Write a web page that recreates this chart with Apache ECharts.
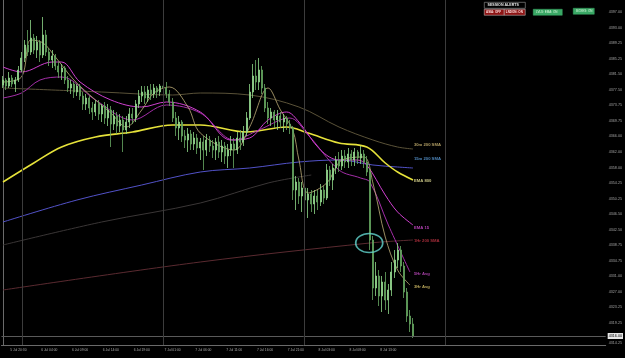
<!DOCTYPE html>
<html><head><meta charset="utf-8">
<script src="https://cdn.jsdelivr.net/npm/echarts/dist/echarts.min.js"></script>
<style>html,body{margin:0;padding:0;background:#000;}#c{width:625px;height:358px;}</style>
</head><body><div id="c"></div>
<script>
// ---- data ----
const slotCount = 196;
const timeLabels = ["5 Jul 20:30","6 Jul 04:00","6 Jul 09:00","6 Jul 14:00","6 Jul 19:00","7 Jul 01:00","7 Jul 06:00","7 Jul 11:00","7 Jul 16:00","7 Jul 21:00","8 Jul 03:00","8 Jul 08:00","8 Jul 13:00"];
const timeLabelSlots = [5,15,25,35,45,55,65,75,85,95,105,115,125];
const sessionBreaks = [6.3,52,97.8,143.6];
const priceTicks = [4397.00,4393.00,4389.25,4385.25,4381.50,4377.50,4373.75,4369.75,4366.00,4362.00,4358.00,4354.25,4350.25,4346.50,4342.50,4338.75,4334.75,4331.00,4327.00,4323.25,4319.25,4314.25];
const lastPrice = 4316.00;

const opens = [4378.75,4380.00,4378.50,4380.50,4379.00,4380.00,4382.50,4385.50,4388.75,4387.00,
4390.50,4387.50,4389.50,4386.25,4391.25,4387.00,4385.00,4386.00,4383.50,4382.00,
4383.00,4380.00,4378.00,4379.00,4377.00,4378.50,4376.00,4374.00,4375.50,4373.00,
4372.00,4374.00,4371.50,4373.50,4370.50,4372.50,4369.00,4371.00,4368.50,4370.00,
4367.50,4369.50,4371.50,4370.50,4374.00,4376.00,4377.00,4375.50,4377.50,4376.50,
4378.00,4377.00,4378.50,4378.00,4376.50,4374.50,4370.50,4368.00,4369.50,4366.00,
4365.00,4366.50,4364.00,4365.50,4363.00,4364.50,4362.50,4365.00,4363.50,4362.50,
4364.50,4362.00,4363.50,4361.00,4362.50,4364.00,4362.50,4365.50,4364.50,4367.00,
4370.50,4377.00,4381.00,4379.50,4382.50,4378.00,4373.00,4370.50,4372.00,4370.00,
4371.00,4369.50,4370.50,4369.00,4368.00,4352.50,4354.50,4351.00,4353.00,4350.00,
4351.50,4349.00,4351.00,4349.50,4352.50,4350.50,4357.50,4355.00,4358.00,4360.00,
4358.50,4361.00,4359.50,4361.50,4360.00,4362.00,4360.50,4361.50,4359.50,4357.00,
4340.00,4328.00,4331.00,4326.00,4329.50,4325.00,4327.50,4332.00,4335.00,4337.50,
4333.50,4327.00,4321.00,4319.00];
const closes = [4380.00,4378.50,4380.50,4379.00,4380.00,4382.50,4385.50,4388.75,4387.00,4390.50,
4387.50,4389.50,4386.25,4391.25,4387.00,4385.00,4386.00,4383.50,4382.00,4383.00,
4380.00,4378.00,4379.00,4377.00,4378.50,4376.00,4374.00,4375.50,4373.00,4372.00,
4374.00,4371.50,4373.50,4370.50,4372.50,4369.00,4371.00,4368.50,4370.00,4367.50,
4369.50,4371.50,4370.50,4374.00,4376.00,4377.00,4375.50,4377.50,4376.50,4378.00,
4377.00,4378.50,4378.00,4376.50,4374.50,4370.50,4368.00,4369.50,4366.00,4365.00,
4366.50,4364.00,4365.50,4363.00,4364.50,4362.50,4365.00,4363.50,4362.50,4364.50,
4362.00,4363.50,4361.00,4362.50,4364.00,4362.50,4365.50,4364.50,4367.00,4370.50,
4377.00,4381.00,4379.50,4382.50,4378.00,4373.00,4370.50,4372.00,4370.00,4371.00,
4369.50,4370.50,4369.00,4368.00,4352.50,4354.50,4351.00,4353.00,4350.00,4351.50,
4349.00,4351.00,4349.50,4352.50,4350.50,4357.50,4355.00,4358.00,4360.00,4358.50,
4361.00,4359.50,4361.50,4360.00,4362.00,4360.50,4361.50,4359.50,4357.00,4340.00,
4328.00,4331.00,4326.00,4329.50,4325.00,4327.50,4332.00,4335.00,4337.50,4333.50,
4327.00,4321.00,4319.00,4316.00];
const lows = [4378.00,4377.50,4378.00,4378.25,4377.00,4379.50,4382.00,4384.50,4386.00,4386.25,
4386.50,4385.50,4384.50,4385.50,4386.00,4383.50,4383.00,4382.50,4380.50,4380.00,
4379.00,4377.00,4376.50,4375.50,4376.00,4375.00,4372.50,4372.50,4371.50,4370.00,
4371.00,4370.00,4369.50,4369.00,4368.50,4363.25,4367.50,4366.50,4367.00,4362.00,
4366.50,4368.00,4369.00,4369.50,4373.00,4374.50,4374.00,4374.50,4375.00,4375.50,
4375.50,4376.00,4376.50,4375.50,4373.50,4369.50,4366.00,4365.00,4364.50,4363.00,
4362.00,4362.50,4362.50,4361.50,4360.00,4357.50,4361.00,4362.00,4360.50,4360.00,
4360.50,4359.50,4359.00,4358.00,4361.00,4358.00,4361.50,4362.50,4363.50,4366.00,
4370.00,4375.50,4377.50,4377.50,4376.50,4372.00,4369.00,4368.50,4368.00,4367.50,
4368.00,4367.00,4367.50,4366.50,4350.00,4347.50,4349.00,4347.00,4346.50,4345.50,
4347.00,4346.50,4347.50,4348.50,4349.00,4350.00,4353.50,4352.50,4356.50,4357.00,
4357.50,4358.00,4358.00,4358.50,4358.50,4359.00,4359.00,4358.00,4356.00,4337.50,
4325.00,4326.00,4323.50,4322.00,4322.50,4321.50,4326.00,4330.50,4333.00,4332.00,
4325.50,4319.50,4317.00,4315.50];
const highs = [4381.00,4380.50,4382.00,4381.25,4380.75,4383.50,4387.00,4390.00,4392.50,4395.00,
4391.50,4391.00,4390.00,4395.75,4392.50,4388.00,4387.50,4386.50,4384.50,4384.00,
4383.50,4381.00,4380.00,4379.50,4379.00,4379.00,4377.00,4376.50,4376.00,4374.50,
4375.00,4375.00,4374.00,4374.50,4374.00,4373.50,4372.50,4372.00,4371.50,4371.00,
4371.00,4373.00,4373.00,4375.00,4377.50,4378.50,4378.50,4378.50,4379.00,4379.00,
4378.50,4379.00,4379.50,4379.50,4377.50,4375.50,4372.00,4371.00,4370.00,4367.50,
4368.00,4367.50,4367.00,4366.50,4365.50,4366.00,4366.50,4366.00,4365.00,4365.50,
4366.00,4365.00,4364.50,4364.00,4366.00,4365.50,4367.00,4367.50,4368.50,4372.00,
4379.00,4384.00,4385.00,4385.50,4383.50,4379.00,4374.50,4373.00,4372.50,4372.50,
4372.00,4371.50,4371.00,4370.00,4368.50,4356.00,4355.50,4354.50,4354.00,4353.00,
4352.50,4352.50,4352.50,4354.00,4353.50,4359.00,4358.50,4359.00,4361.00,4362.00,
4362.50,4362.50,4363.00,4362.50,4363.00,4362.50,4363.50,4362.50,4361.00,4358.00,
4341.00,4334.50,4332.50,4331.00,4332.00,4329.00,4334.50,4337.50,4339.25,4338.50,
4334.50,4328.00,4322.50,4320.50];

// moving averages: [bar index, price]
const ema800 = [[0,4354.50],[10,4359.25],[19,4363.25],[30,4365.75],[42,4367.00],[55,4368.75],[64,4368.75],[79,4367.00],[92,4368.25],[99,4366.75],[109,4364.25],[118,4363.25],[124,4359.25],[128,4357.00],[133,4355.00]];
const sma15m200 = [[0,4344.50],[24,4350.00],[45,4353.75],[64,4357.00],[80,4358.00],[96,4359.50],[109,4360.00],[120,4358.75],[128,4358.25],[133,4358.00]];
const sma30m200 = [[0,4378.00],[32,4377.00],[55,4376.25],[64,4376.75],[80,4376.25],[96,4373.25],[109,4368.25],[120,4365.00],[128,4363.25],[133,4362.75]];
const sma1h200 = [[0,4327.50],[64,4334.50],[119,4339.25],[133,4340.00]];
const dimAvg = [[0,4338.75],[32,4344.50],[64,4349.25],[86,4354.25],[100,4356.25]];
const ema15 = [[0,4383.25],[6,4382.00],[16,4384.50],[19,4384.50],[25,4379.50],[35,4375.00],[45,4373.25],[53,4374.50],[64,4372.00],[74,4365.00],[80,4365.50],[86,4370.00],[92,4372.00],[96,4369.50],[103,4362.50],[109,4360.00],[115,4360.00],[118,4358.75],[124,4351.25],[128,4347.00],[133,4343.75]];
const avg5h = [[0,4375.50],[6,4376.75],[12,4380.00],[19,4380.75],[30,4375.00],[42,4370.00],[53,4373.75],[64,4371.75],[75,4365.00],[83,4367.50],[93,4370.50],[99,4366.25],[109,4357.50],[116,4355.50],[119,4354.50],[125,4343.75],[132,4332.00]];
const avg3h = [[0,4379.50],[6,4380.75],[9,4390.00],[13,4389.25],[17,4385.75],[23,4380.00],[30,4375.00],[35,4371.75],[40,4368.25],[45,4372.50],[49,4376.75],[54,4378.25],[60,4373.25],[64,4366.75],[75,4362.50],[80,4368.25],[86,4378.00],[90,4372.50],[94,4367.50],[96,4360.00],[99,4351.75],[105,4354.25],[110,4360.00],[117,4360.75],[120,4354.25],[124,4340.75],[128,4332.50],[132,4328.75]];

const lineLabelNames = ["30m 200 SMA","15m 200 SMA","EMA 800","EMA 15","1Hr 200 SMA","5Hr Avg","3Hr Avg"];
const lineLabelPrices = [4363.75,4360.25,4354.75,4343.00,4339.75,4331.50,4328.25];
const lineLabelColors = ["#d9c27a","#62a8e8","#f2eea0","#e050e0","#d03848","#d050d0","#e6d070"];
const lineLabelIndex = 133.3;
const circleMark = [118.8, 4339.25];

// ---- chart ----
const cats = new Array(slotCount).fill('');
timeLabelSlots.forEach((s, k) => { cats[s] = timeLabels[k]; });
const candles = opens.map((o, i) => [o, closes[i], lows[i], highs[i]]);
const FONT = 'Liberation Sans';

function lineSeries(data, color, width, opacity) {
  return { type: 'line', xAxisIndex: 1, yAxisIndex: 0, data: data, smooth: 0.35, showSymbol: false,
    lineStyle: { color: color, width: width, opacity: opacity == null ? 1 : opacity }, z: 3, silent: true };
}

const chart = echarts.init(document.getElementById('c'), null, { renderer: 'canvas' });
chart.setOption({
  animation: false,
  backgroundColor: '#000',
  grid: { left: 0, right: 17, top: 0, bottom: 13 },
  xAxis: [
    { type: 'category', data: cats, boundaryGap: true,
      axisLine: { show: true, lineStyle: { color: '#6a6a6a', width: 1 } },
      axisTick: { show: false },
      axisLabel: { interval: 0, color: '#a8a8a8', fontSize: 3.3, fontFamily: FONT, margin: 4 },
      splitLine: { show: false } },
    { type: 'value', min: -0.5, max: slotCount - 0.5, show: false }
  ],
  yAxis: [{ type: 'value', position: 'right', min: 4313.75, max: 4400, scale: true,
    axisLine: { show: true, lineStyle: { color: '#6a6a6a', width: 1 } },
    axisTick: { show: false },
    splitLine: { show: false },
    axisLabel: { customValues: priceTicks, color: '#a0a0a0', fontSize: 3.7, fontFamily: FONT, margin: 3,
      formatter: v => v.toFixed(2) } }],
  series: [
    lineSeries(dimAvg, '#3a3636', 1),
    lineSeries(sma1h200, '#5a2a30', 1),
    lineSeries(sma30m200, '#5a5238', 1),
    lineSeries(sma15m200, '#5252c8', 1),
    lineSeries(ema800, '#e6e23a', 1.6),
    lineSeries(avg5h, '#a42ea8', 1),
    lineSeries(ema15, '#cf3fcf', 1),
    lineSeries(avg3h, '#bfae78', 0.8),
    { type: 'candlestick', xAxisIndex: 0, yAxisIndex: 0, data: candles, barWidth: 1.5, z: 4,
      itemStyle: { color: '#e4fbe0', color0: '#4f8c4b', borderColor: '#8fd889', borderColor0: '#68aa63', borderWidth: 0.8 },
      markLine: { silent: true, symbol: 'none', animation: false,
        data: [{ yAxis: lastPrice }],
        lineStyle: { color: '#5a5a5a', width: 1, type: 'solid' },
        label: { show: true, position: 'end', distance: 2, formatter: lastPrice.toFixed(2),
          backgroundColor: '#e6e6e6', color: '#000', fontSize: 3.7, fontFamily: FONT, padding: [1, 1] } } },
    { type: 'line', xAxisIndex: 1, yAxisIndex: 0, data: [], silent: true,
      markLine: { silent: true, symbol: 'none', animation: false,
        data: sessionBreaks.map(v => ({ xAxis: v })),
        lineStyle: { color: '#3c3c3c', width: 1, type: 'solid' }, label: { show: false } } },
    { type: 'scatter', xAxisIndex: 1, yAxisIndex: 0, symbolSize: 0, silent: true, z: 6,
      data: lineLabelNames.map((n, k) => ({ value: [lineLabelIndex, lineLabelPrices[k]],
        label: { show: true, position: 'right', distance: 0, formatter: n, color: lineLabelColors[k],
          fontSize: 4.2, fontWeight: 'bold', fontFamily: FONT } })) },
    { type: 'scatter', xAxisIndex: 1, yAxisIndex: 0, silent: true, z: 7,
      data: [circleMark], symbol: 'circle', symbolSize: [27, 19],
      itemStyle: { color: 'rgba(0,0,0,0)', borderColor: '#63d6cf', borderWidth: 1.5 } }
  ],
  graphic: [
    { type: 'rect', left: 484, top: 2, shape: { width: 41, height: 6 }, style: { fill: '#000', stroke: '#9a9a9a', lineWidth: 0.6 } },
    { type: 'text', left: 487.5, top: 3.2, style: { text: 'SESSION ALERTS', fill: '#e8e8e8', font: 'bold 3.6px Liberation Sans' } },
    { type: 'rect', left: 484, top: 9, shape: { width: 20, height: 6 }, style: { fill: '#8e1414', stroke: '#cfcfcf', lineWidth: 0.5 } },
    { type: 'text', left: 486, top: 10.4, style: { text: 'ASIA: OFF', fill: '#ffe0e0', font: 'bold 3px Liberation Sans' } },
    { type: 'rect', left: 504, top: 9, shape: { width: 21, height: 6 }, style: { fill: '#8e1414', stroke: '#cfcfcf', lineWidth: 0.5 } },
    { type: 'text', left: 505.8, top: 10.4, style: { text: 'LNDON: ON', fill: '#ffe0e0', font: 'bold 3px Liberation Sans' } },
    { type: 'rect', left: 533, top: 9, shape: { width: 29, height: 6 }, style: { fill: '#3aa866', stroke: '#3aa866', lineWidth: 0.5 } },
    { type: 'text', left: 536, top: 10.4, style: { text: 'LVLS: EMA: ON', fill: '#d8f8dc', font: '3px Liberation Sans' } },
    { type: 'rect', left: 573, top: 8, shape: { width: 21, height: 6 }, style: { fill: '#3aa866', stroke: '#3aa866', lineWidth: 0.5 } },
    { type: 'text', left: 576, top: 9.4, style: { text: 'BOXES: ON', fill: '#d8f8dc', font: '3px Liberation Sans' } }
  ]
});
</script></body></html>
